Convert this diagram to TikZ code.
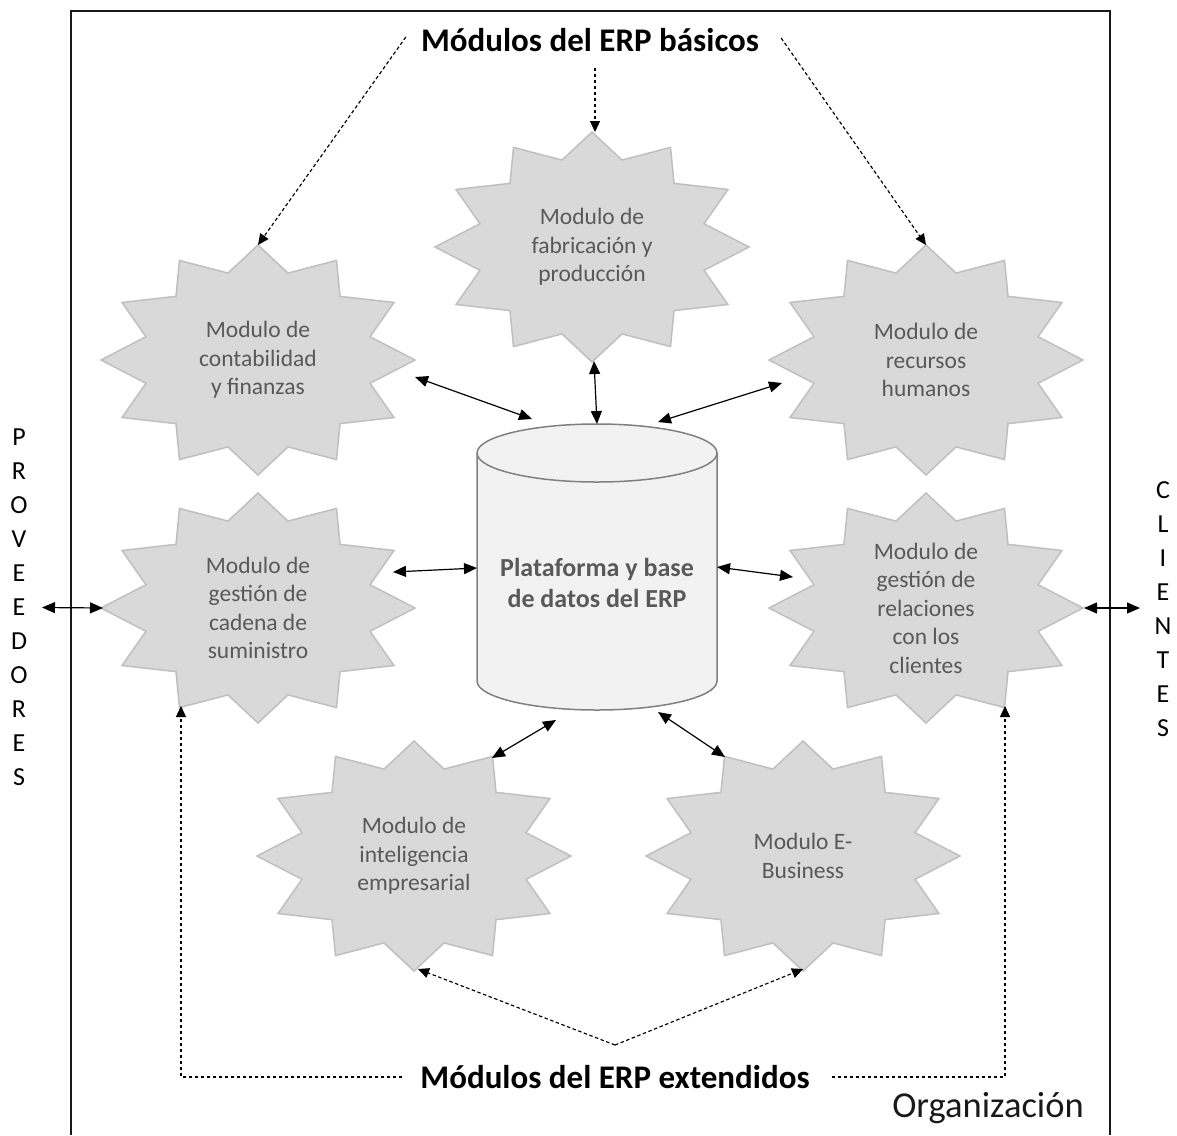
\documentclass[tikz,border=0pt]{standalone}
\usepackage{fontspec}
\setmainfont{Carlito}
\usetikzlibrary{arrows.meta,calc,shapes.geometric}
\definecolor{starfill}{HTML}{D9D9D9}
\definecolor{starline}{HTML}{BFBFBF}
\definecolor{modgray}{HTML}{595959}
\definecolor{dbfill}{HTML}{F2F2F2}
\definecolor{dbline}{HTML}{808080}
\newcommand\modstar[4]{%
  \filldraw[burst, shift={(#1,#2)}]
    plot[variable=\k, samples at={0,...,23}]
      ({ifthenelse(mod(\k,2)==0,157,116)*cos(90-15*\k)},
       {ifthenelse(mod(\k,2)==0,115,90)*sin(90-15*\k)}) -- cycle;
  \node[modtext] (#3) at (#1,#2) {#4};}
\begin{document}
\begin{tikzpicture}[x=1pt,y=-1pt,
  burst/.style={fill=starfill, draw=starline, line width=1.5pt, line join=miter},
  modtext/.style={shape=ellipse, minimum width=314pt, minimum height=230pt, inner sep=0pt,
    align=center, text=modgray, font=\fontsize{23.5}{28.5}\selectfont},
  dbtext/.style={align=center, text=modgray, inner sep=0pt, font=\bfseries\fontsize{26}{31}\selectfont},
  title/.style={inner sep=0pt, font=\bfseries\fontsize{33}{38}\selectfont},
  side/.style={inner sep=0pt, align=center, font=\fontsize{26}{34}\selectfont},
  frame/.style={draw=black!90, line width=2.5pt},
  biarrow/.style={line width=1.2pt, {Triangle[length=13pt,width=11pt]}-{Triangle[length=13pt,width=11pt]}},
  dasharrow/.style={line width=1.15pt, dash pattern=on 3.5pt off 2.5pt, -{Triangle[length=11pt,width=10pt]}},
]
\useasboundingbox (0,0) rectangle (1177,1135);
% frame of the organisation
\draw[frame] (71,1135) -- (71,11) -- (1110,11) -- (1110,1135);
\node[inner sep=0pt, font=\fontsize{36.5}{40}\selectfont, text=black!90] (org) at (988,1108) {Organización};

% modules
\modstar{258}{360}{cont}{Modulo de\\contabilidad\\y finanzas}
\modstar{592}{247}{fab}{Modulo de\\fabricación y\\producción}
\modstar{926}{360}{rec}{Modulo de\\recursos\\humanos}
\modstar{258}{608}{cad}{Modulo de\\gestión de\\cadena de\\suministro}
\modstar{926}{608}{rel}{Modulo de\\gestión de\\relaciones\\con los\\clientes}
\modstar{414}{856}{intel}{Modulo de\\inteligencia\\empresarial}
\modstar{803}{856}{ebiz}{Modulo E-\\Business}

% database cylinder
\fill[dbfill] (477,453) -- (477,681)
  .. controls (477,697) and (531,710) .. (597,710)
  .. controls (663,710) and (717,697) .. (717,681) -- (717,453) -- cycle;
\draw[dbline, line width=1.5pt] (477,453) -- (477,681)
  .. controls (477,697) and (531,710) .. (597,710)
  .. controls (663,710) and (717,697) .. (717,681) -- (717,453);
\filldraw[fill=dbfill, draw=dbline, line width=1.5pt] (597,453) ellipse [x radius=120, y radius=29];
\node[dbtext, minimum width=240pt, minimum height=285pt] (db) at (597,567.5) {};
\node[dbtext] (dbt) at (597,583) {Plataforma y base\\de datos del ERP};

% titles
\node[title] (t1) at (590,40) {Módulos del ERP básicos};
\node[title] (t2) at (615,1077) {Módulos del ERP extendidos};

% side labels
\node[side] (prov) at (19,607.5) {P\\R\\O\\V\\E\\E\\D\\O\\R\\E\\S};
\node[side] (cli) at (1163,609) {C\\L\\I\\E\\N\\T\\E\\S};

% solid double arrows
\draw[biarrow] ($(cont.center)+(157,17)$) -- ($(db.center)+(-65,-148.5)$);
\draw[biarrow] ($(fab.center)+(2,114)$) -- ($(db.center)+(0,-143.5)$);
\draw[biarrow] ($(db.center)+(61,-145.5)$) -- ($(rec.center)+(-144,23)$);
\draw[biarrow] ($(cad.center)+(135,-36)$) -- ($(db.center)+(-120,0.5)$);
\draw[biarrow] ($(db.center)+(120,-0.5)$) -- ($(rel.center)+(-133,-31)$);
\draw[biarrow] ($(intel.center)+(78,-98)$) -- ($(db.center)+(-41,152.5)$);
\draw[biarrow] ($(db.center)+(61,144.5)$) -- ($(ebiz.center)+(-78,-99)$);
\draw[biarrow] ($(prov.center)+(23,0)$) -- ($(cad.center)+(-155,0)$);
\draw[biarrow] ($(rel.center)+(158,0)$) -- ($(cli.center)+(-23,-1)$);

% dashed arrows from titles
\draw[dasharrow] ($(t1.west)+(-15,-3)$) -- ($(cont.center)+(0,-115)$);
\draw[dasharrow] ($(t1.south)+(5,16)$) -- ($(fab.center)+(3,-115)$);
\draw[dasharrow] ($(t1.east)+(22,-2)$) -- ($(rec.center)+(0,-115)$);
\coordinate (apex) at ($(t2.center)+(0,-32)$);
\draw[dasharrow] (apex) -- ($(intel.center)+(4,113)$);
\draw[dasharrow] (apex) -- ($(ebiz.center)+(0,113)$);
\draw[dasharrow] ($(t2.west)+(-18,0)$) -| ($(cad.center)+(-77,98)$);
\draw[dasharrow] ($(t2.east)+(22,0)$) -| ($(rel.center)+(79,98)$);
\end{tikzpicture}
\end{document}
